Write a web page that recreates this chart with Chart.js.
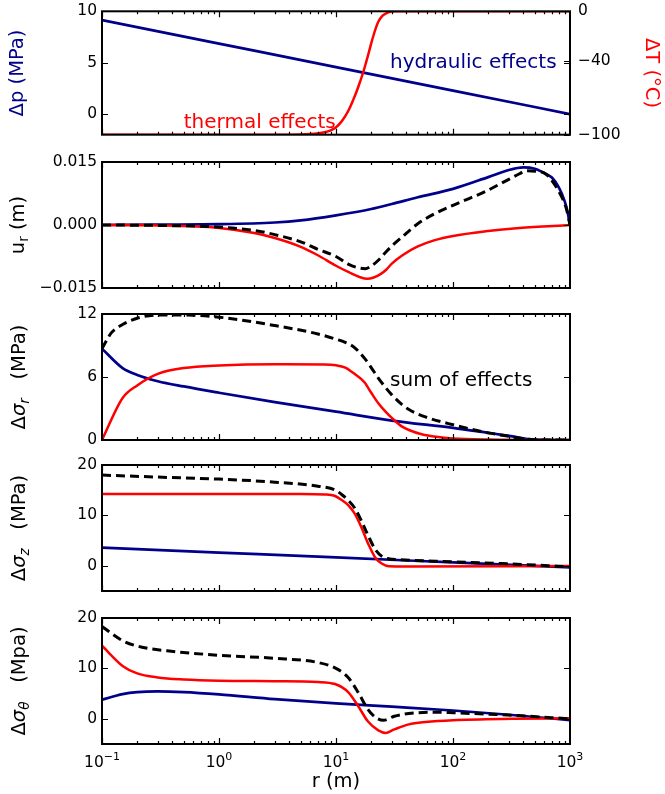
<!DOCTYPE html>
<html>
<head>
<meta charset="utf-8">
<script src="https://cdn.jsdelivr.net/npm/chart.js@4.4.0/dist/chart.umd.min.js"></script>
<style>
  body { margin: 0; background: #fff; width: 665px; height: 794px; position: relative; overflow: hidden; }
  .panel { position: absolute; left: 0; width: 665px; }
</style>
</head>
<body>
<div class="panel" style="top:-6px;height:158px"><canvas id="c1"></canvas></div>
<div class="panel" style="top:146px;height:158px"><canvas id="c2"></canvas></div>
<div class="panel" style="top:298px;height:158px"><canvas id="c3"></canvas></div>
<div class="panel" style="top:449px;height:158px"><canvas id="c4"></canvas></div>
<div class="panel" style="top:602px;height:192px"><canvas id="c5"></canvas></div>
<script>
// shared x axis (r in m, log scale)
var xTickValues = [0.1, 1, 10, 100, 1000];
var xTickExp = ['\u22121', '0', '1', '2', '3'];

// panel 1: pressure (left axis) and temperature (right axis)
var rPressure = [0.1, 1, 10, 100, 1000];
var pressure = [9.15, 6.86, 4.57, 2.29, 0];
var rTemp = [0.1, 4, 6, 8, 9, 10, 11, 12, 13, 14, 15, 16, 17, 18, 19, 20, 21, 22, 23, 25, 28, 32, 1000];
var temperature = [-100, -100, -99.5, -98, -96.5, -94, -90, -85, -79, -72, -65, -57.5, -50, -42, -34, -26, -19, -13, -8.5, -3.5, -0.8, 0, 0];
var pTicks = [0, 5, 10], pTickLabels = ['0', '5', '10'];
var tTicks = [-100, -40, 0], tTickLabels = ['\u2212100', '\u221240', '0'];

// panel 2: radial displacement
var rDispH = [0.1, 0.3, 1, 3, 5, 10, 20, 30, 50, 100, 200, 300, 400, 500, 600, 700, 800, 900, 950, 1000];
var uHydraulic = [0, 0.0001, 0.0002, 0.0006, 0.0011, 0.0023, 0.0038, 0.0050, 0.0066, 0.0086, 0.0114, 0.0131, 0.0137, 0.0134, 0.0124, 0.0113, 0.0090, 0.0057, 0.0033, 0];
var rDispT = [0.1, 0.3, 1, 2, 3, 5, 7, 10, 13, 16, 18.5, 21, 24, 27, 30, 37, 50, 70, 100, 190, 370, 1000];
var uThermal = [0, -0.0001, -0.0007, -0.0019, -0.0031, -0.0052, -0.0072, -0.0097, -0.0113, -0.0124, -0.0128, -0.0125, -0.0117, -0.0106, -0.0092, -0.0072, -0.0051, -0.0036, -0.0026, -0.0015, -0.0007, 0];
var rDispS = [0.1, 0.3, 1, 2, 3, 5, 7, 10, 12.7, 15, 17.7, 20, 23, 26, 30, 36.5, 50, 70, 100, 137, 190, 270, 370, 420, 520, 630, 820, 930, 1000];
var uSum = [0, -0.0001, -0.0005, -0.0013, -0.0023, -0.0040, -0.0058, -0.0075, -0.0093, -0.0101, -0.0104, -0.0098, -0.0084, -0.0068, -0.0050, -0.0029, 0.0003, 0.0027, 0.0047, 0.0063, 0.0080, 0.0102, 0.0122, 0.0129, 0.0128, 0.0120, 0.0075, 0.0039, 0];
var uTicks = [-0.015, 0, 0.015], uTickLabels = ['\u22120.015', '0.000', '0.015'];

// panel 3: radial stress change
var rSrH = [0.1, 0.15, 0.2, 0.3, 0.5, 1, 3, 10, 30, 100, 200, 300, 500, 1000];
var srHydraulic = [8.7, 6.85, 6.2, 5.6, 5.1, 4.5, 3.6, 2.7, 1.85, 1.15, 0.68, 0.4, 0.03, 0];
var rSrT = [0.1, 0.15, 0.2, 0.3, 0.5, 1, 3, 8, 10, 12, 14.4, 17.5, 20, 23, 26.5, 30, 36.5, 42, 54, 72, 100, 200, 1000];
var srThermal = [0, 4.0, 5.2, 6.3, 6.85, 7.1, 7.22, 7.2, 7.12, 6.9, 6.3, 5.5, 4.5, 3.5, 2.7, 2.1, 1.3, 0.95, 0.55, 0.3, 0.15, 0.05, 0];
var rSrS = [0.1, 0.12, 0.15, 0.2, 0.3, 0.5, 1, 3, 7, 10, 12, 14.4, 17.5, 20, 23, 26.5, 30, 36.5, 42, 58, 100, 200, 300, 400, 500, 1000];
var srSum = [8.7, 10.2, 11.0, 11.6, 11.9, 11.9, 11.7, 10.9, 10.1, 9.6, 9.3, 8.8, 7.8, 6.9, 5.9, 5.0, 4.3, 3.4, 2.9, 2.2, 1.45, 0.68, 0.35, 0.12, 0.02, 0];
var srTicks = [0, 6, 12], srTickLabels = ['0', '6', '12'];

// panel 4: vertical stress change
var rSzH = [0.1, 1, 10, 100, 1000];
var szHydraulic = [3.6, 2.63, 1.66, 0.68, -0.3];
var rSzT = [0.1, 5, 8, 9.7, 11.1, 12.7, 14.5, 16.5, 18.9, 21.6, 24.6, 28.2, 40, 1000];
var szThermal = [14.25, 14.25, 14.15, 13.9, 13.1, 12.05, 10.3, 7.6, 4.3, 1.66, 0.46, -0.07, -0.12, -0.05];
var rSzS = [0.1, 0.3, 1, 3, 7, 9.7, 11.1, 12.7, 14.5, 16.5, 18.9, 21.6, 24.6, 28.2, 35, 100, 260, 1000];
var szSum = [18.0, 17.6, 17.2, 16.6, 15.8, 15.1, 14.2, 13.0, 11.4, 8.9, 5.9, 3.3, 1.9, 1.4, 1.2, 0.8, 0.45, -0.2];
var szTicks = [0, 10, 20], szTickLabels = ['0', '10', '20'];

// panel 5: hoop stress change
var rStH = [0.1, 0.15, 0.2, 0.3, 0.5, 1, 3, 10, 30, 100, 300, 1000];
var stHydraulic = [3.8, 4.9, 5.3, 5.45, 5.3, 4.85, 3.9, 3.05, 2.4, 1.65, 0.8, -0.25];
var rStT = [0.1, 0.15, 0.2, 0.3, 0.5, 1, 3, 7, 9.8, 12.7, 15.5, 18.7, 23, 26.5, 31.5, 42, 58, 100, 320, 1000];
var stThermal = [14.5, 10.5, 9.0, 8.2, 7.8, 7.55, 7.45, 7.3, 6.9, 5.3, 2.5, -0.5, -2.3, -2.8, -2.1, -1.1, -0.65, -0.27, 0, 0.1];
var rStS = [0.1, 0.15, 0.22, 0.36, 1, 3, 6.9, 9.8, 12.7, 15.5, 18.7, 22, 25.5, 31.5, 42, 72, 100, 320, 1000];
var stSum = [18.3, 15.5, 14.2, 13.5, 12.6, 12.0, 11.2, 10.1, 8.2, 5.2, 1.9, 0.2, -0.3, 0.5, 1.05, 1.3, 1.2, 0.7, 0];
var stTicks = [0, 10, 20], stTickLabels = ['0', '10', '20'];

var NAVY = '#00008b', RED = '#ff0000';
var FONT = '"DejaVu Sans", sans-serif';

function pts(r, v) { return r.map(function (x, i) { return { x: x, y: v[i] }; }); }

function line(r, v, color, dashed, axis) {
  return {
    data: pts(r, v),
    borderColor: color,
    borderWidth: dashed ? 3 : (color === NAVY ? 2.7 : 2.5),
    borderDash: dashed ? [9, 5] : [],
    pointRadius: 0,
    cubicInterpolationMode: 'monotone',
    yAxisID: axis || 'y',
    order: dashed ? 0 : (color === RED ? 1 : 2)
  };
}

// rotated label built from parts (subscripts, italics)
function drawRot(ctx, parts, cx, cy, angle, size, color) {
  var total = 0;
  parts.forEach(function (p) {
    var s = p.sub ? size * 0.7 : size;
    ctx.font = (p.it ? 'italic ' : '') + s + 'px ' + FONT;
    p.w = ctx.measureText(p.t).width;
    total += p.w;
  });
  ctx.save();
  ctx.translate(cx, cy);
  ctx.rotate(angle);
  ctx.fillStyle = color;
  ctx.textBaseline = 'middle';
  ctx.textAlign = 'left';
  var x = -total / 2;
  parts.forEach(function (p) {
    var s = p.sub ? size * 0.7 : size;
    ctx.font = (p.it ? 'italic ' : '') + s + 'px ' + FONT;
    ctx.fillText(p.t, x, p.sub ? size * 0.3 : 0);
    x += p.w;
  });
  ctx.restore();
}

var deco = {
  id: 'deco',
  afterDraw: function (chart, args, o) {
    var ctx = chart.ctx, a = chart.chartArea, sx = chart.scales.x, sy = chart.scales.y;
    ctx.save();
    (o.notes || []).forEach(function (n) {
      ctx.font = '20px ' + FONT;
      ctx.fillStyle = n.color;
      ctx.textBaseline = 'middle';
      ctx.textAlign = 'left';
      ctx.fillText(n.text, sx.getPixelForValue(n.x), sy.getPixelForValue(n.y));
    });
    // inward ticks on all four sides
    ctx.strokeStyle = '#000';
    ctx.lineWidth = 1.2;
    ctx.beginPath();
    for (var e = -1; e < 3; e++) {
      for (var m = 1; m < 10; m++) {
        var px = Math.round(sx.getPixelForValue(m * Math.pow(10, e))) + 0.5;
        var len = m === 1 ? 6 : 3;
        ctx.moveTo(px, a.top); ctx.lineTo(px, a.top + len);
        ctx.moveTo(px, a.bottom); ctx.lineTo(px, a.bottom - len);
      }
    }
    sy.ticks.forEach(function (t) {
      var py = Math.round(sy.getPixelForValue(t.value)) + 0.5;
      ctx.moveTo(a.left, py); ctx.lineTo(a.left + 6, py);
      ctx.moveTo(a.right, py); ctx.lineTo(a.right - 6, py);
    });
    if (chart.scales.y2) {
      chart.scales.y2.ticks.forEach(function (t) {
        var py = Math.round(chart.scales.y2.getPixelForValue(t.value)) + 0.5;
        ctx.moveTo(a.right, py); ctx.lineTo(a.right - 6, py);
      });
    }
    ctx.stroke();
    ctx.lineWidth = 2;
    ctx.strokeRect(a.left, a.top, a.right - a.left, a.bottom - a.top);
    // x tick labels as 10 with a raised exponent
    if (o.xLabels) {
      ctx.fillStyle = '#000';
      ctx.textBaseline = 'alphabetic';
      ctx.textAlign = 'left';
      xTickValues.forEach(function (v, i) {
        ctx.font = '15.5px ' + FONT;
        var w1 = ctx.measureText('10').width;
        ctx.font = '11px ' + FONT;
        var w2 = ctx.measureText(xTickExp[i]).width;
        var x0 = sx.getPixelForValue(v) - (w1 + w2) / 2;
        var by = a.bottom + 23;
        ctx.font = '15.5px ' + FONT;
        ctx.fillText('10', x0, by);
        ctx.font = '11px ' + FONT;
        ctx.fillText(xTickExp[i], x0 + w1, by - 7);
      });
    }
    var mid = (a.top + a.bottom) / 2;
    drawRot(ctx, o.yTitle, o.titleX, mid, -Math.PI / 2, 19.5, o.titleColor || '#000');
    if (o.rightTitle) drawRot(ctx, o.rightTitle, 651, mid, Math.PI / 2, 19.5, RED);
    ctx.restore();
  }
};

function yScale(min, max, ticks, labels, pos, width) {
  return {
    type: 'linear', position: pos, min: min, max: max,
    afterBuildTicks: function (s) { s.ticks = ticks.map(function (v) { return { value: v }; }); },
    afterFit: function (s) { s.width = width; },
    grid: { display: false, drawTicks: false },
    border: { display: false },
    ticks: {
      padding: pos === 'left' ? 5 : 8, color: '#000', font: { family: FONT, size: 15.5 },
      callback: function (v, i) { return labels[i]; }
    }
  };
}

function panel(id, datasets, scales, showX, opts) {
  scales.x = {
    type: 'logarithmic', min: 0.1, max: 1000, display: showX,
    afterFit: function (s) { if (showX) s.height = 50; },
    grid: { display: false, drawTicks: false },
    border: { display: false },
    ticks: { display: false },
    title: { display: true, text: 'r (m)', color: '#000', font: { family: FONT, size: 19.5 }, padding: { top: 0, bottom: 0 } }
  };
  opts.xLabels = showX;
  return new Chart(document.getElementById(id), {
    type: 'line',
    data: { datasets: datasets },
    options: {
      responsive: true, maintainAspectRatio: false, animation: false, events: [],
      layout: { padding: { top: 16, bottom: showX ? 0 : 16, left: 0, right: scales.y2 ? 0 : 95 } },
      scales: scales,
      plugins: { legend: { display: false }, tooltip: { enabled: false }, deco: opts }
    },
    plugins: [deco]
  });
}

panel('c1', [
  line(rPressure, pressure, NAVY, false, 'y'),
  line(rTemp, temperature, RED, false, 'y2')
], {
  y: yScale(-2, 10, pTicks, pTickLabels, 'left', 102),
  y2: yScale(-100, 0, tTicks, tTickLabels, 'right', 95)
}, false, {
  yTitle: [{ t: '\u0394p (MPa)' }], titleX: 18, titleColor: NAVY,
  rightTitle: [{ t: '\u0394T (\u00B0C)' }],
  notes: [
    { text: 'hydraulic effects', x: 29, y: 5, color: NAVY },
    { text: 'thermal effects', x: 0.5, y: -0.85, color: RED }
  ]
});

panel('c2', [
  line(rDispH, uHydraulic, NAVY),
  line(rDispT, uThermal, RED),
  line(rDispS, uSum, '#000', true)
], { y: yScale(-0.015, 0.015, uTicks, uTickLabels, 'left', 102) }, false, {
  yTitle: [{ t: 'u' }, { t: 'r', sub: true }, { t: ' (m)' }], titleX: 19
});

panel('c3', [
  line(rSrH, srHydraulic, NAVY),
  line(rSrT, srThermal, RED),
  line(rSrS, srSum, '#000', true)
], { y: yScale(0, 12, srTicks, srTickLabels, 'left', 102) }, false, {
  yTitle: [{ t: '\u0394' }, { t: '\u03C3', it: true }, { t: 'r', sub: true, it: true }, { t: '   (MPa)' }], titleX: 20,
  notes: [{ text: 'sum of effects', x: 29, y: 5.6, color: '#000' }]
});

panel('c4', [
  line(rSzH, szHydraulic, NAVY),
  line(rSzT, szThermal, RED),
  line(rSzS, szSum, '#000', true)
], { y: yScale(-5, 20, szTicks, szTickLabels, 'left', 102) }, false, {
  yTitle: [{ t: '\u0394' }, { t: '\u03C3', it: true }, { t: 'z', sub: true, it: true }, { t: '   (MPa)' }], titleX: 20
});

panel('c5', [
  line(rStH, stHydraulic, NAVY),
  line(rStT, stThermal, RED),
  line(rStS, stSum, '#000', true)
], { y: yScale(-5, 20, stTicks, stTickLabels, 'left', 102) }, true, {
  yTitle: [{ t: '\u0394' }, { t: '\u03C3', it: true }, { t: '\u03B8', sub: true, it: true }, { t: '   (Mpa)' }], titleX: 20
});
</script>
</body>
</html>
